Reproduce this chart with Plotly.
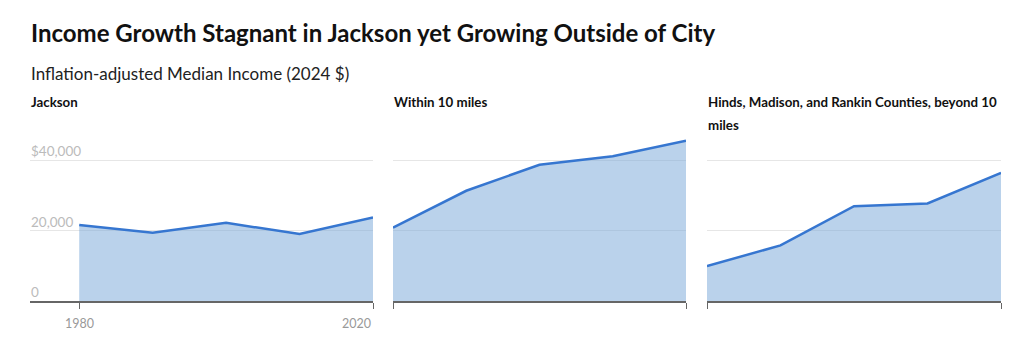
import plotly.graph_objects as go

years = [1980, 1990, 2000, 2010, 2020]
jackson = [21600, 19400, 22200, 19000, 23700]
within10 = [20800, 31300, 38700, 41100, 45500]
beyond10 = [9900, 15800, 26900, 27700, 36400]
panel_titles = [["Jackson"], ["Within 10 miles"],
                ["Hinds, Madison, and Rankin Counties, beyond 10", "miles"]]
y_tickvals = [0, 20000, 40000]
y_ticktext = ["0", "20,000", "$40,000"]
x_tickvals = [1980, 2020]
x_ticktext = ["1980", "2020"]

FONT = "Lato, Roboto, sans-serif"
W, H = 1024, 354
LINE = "#3676d0"
FILL = "rgba(117,165,215,0.5)"

def px(x):
    return x / W

def py(y):
    return 1 - y / H

fig = go.Figure()
series = [jackson, within10, beyond10]
xdomains = [[px(30), px(373)], [px(393), px(686)], [px(707), px(1001)]]
xranges = [[1973.3, 2020], [1980, 2020], [1980, 2020]]
ydom = [py(301), py(139)]

for i, vals in enumerate(series):
    n = "" if i == 0 else str(i + 1)
    fig.add_trace(go.Scatter(
        x=years, y=vals, mode="lines", fill="tozeroy",
        line=dict(color=LINE, width=2.5), fillcolor=FILL,
        xaxis="x" + n, yaxis="y" + n, showlegend=False, hoverinfo="skip"))
    fig.layout["xaxis" + n] = dict(
        domain=xdomains[i], range=xranges[i], anchor="y" + n,
        showgrid=False, zeroline=False, showline=True,
        linecolor="#666666", linewidth=2,
        ticks="outside", ticklen=6, tickwidth=1, tickcolor="#666666",
        tickvals=x_tickvals, showticklabels=False, automargin=False,
        fixedrange=True)
    fig.layout["yaxis" + n] = dict(
        domain=ydom, range=[0, 46000], anchor="x" + n,
        showgrid=True, gridcolor="#e6e6e6", gridwidth=1,
        zeroline=False, showline=False, ticks="",
        tickvals=y_tickvals, showticklabels=False, automargin=False,
        fixedrange=True)

annotations = [
    dict(text="<b>Income Growth Stagnant in Jackson yet Growing Outside of City</b>",
         x=px(29), y=py(32), font=dict(size=24, color="#111111", family=FONT)),
    dict(text="Inflation-adjusted Median Income (2024 $)",
         x=px(29), y=py(73), font=dict(size=17, color="#222222", family=FONT)),
]
title_x = [29, 392, 706]
for i, lines in enumerate(panel_titles):
    for j, t in enumerate(lines):
        annotations.append(dict(
            text="<b>" + t + "</b>", x=px(title_x[i]), y=py(102 + 23 * j),
            font=dict(size=13.3, color="#111111", family=FONT)))

for a in annotations:
    a.update(xref="paper", yref="paper", xanchor="left", yanchor="middle",
             showarrow=False, align="left")

for v, t in zip(y_tickvals, y_ticktext):
    annotations.append(dict(
        text=t, x=px(29), xref="paper", y=v, yref="y", xanchor="left",
        yanchor="bottom", yshift=-1, showarrow=False,
        font=dict(size=13.5, color="#bbbbbb", family=FONT)))

for v, t, anc in zip(x_tickvals, x_ticktext, ["center", "right"]):
    annotations.append(dict(
        text=t, x=v, xref="x", y=py(323), yref="paper", xanchor=anc,
        yanchor="middle", showarrow=False,
        font=dict(size=12.5, color="#999999", family=FONT)))

fig.update_layout(
    width=W, height=H, autosize=False, margin=dict(l=0, r=0, t=0, b=0),
    paper_bgcolor="white", plot_bgcolor="white",
    annotations=annotations, font=dict(family=FONT))

fig.write_html(
    "out.html", config={"responsive": False},
    post_script="document.body.style.margin='0';document.body.style.overflow='hidden';")
